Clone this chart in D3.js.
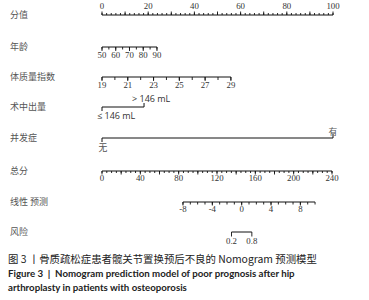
<!DOCTYPE html>
<html><head><meta charset="utf-8">
<script src="https://cdn.jsdelivr.net/npm/d3@7"></script>
<style>
html,body{margin:0;padding:0;background:#fff;}
svg{display:block;}
</style></head>
<body>
<svg id="c" width="369" height="300"></svg>
<script>
// ---- data ----
const rowLabels = ["分值","年龄","体质量指数","术中出量","并发症","总分","线性 预测","风险"];
const pointsTicks = [0,20,40,60,80,100];
const ageValues = [50,60,70,80,90];
const agePoints = [0, 23.8];            // points at age 50 and 90
const bmiValues = [19,21,23,25,27,29];
const bmiPoints = [0, 55.8];            // points at BMI 19 and 29
const bloodLevels = ["≤ 146 mL", "> 146 mL"];
const bloodPoints = [0, 18.2];
const compLevels = ["无", "有"];
const compPoints = [0, 100];
const totalTicks = [0,40,80,120,160,200,240];
const lpTicks = [-8,-4,0,4,8];
const lpRange = [-8, 10];
const lpTotal = [84.5, 207];            // total points at LP -8 and 8
const riskTicks = [0.2, 0.8];

const svg = d3.select("#c");
const black = "#111";
const X0 = 102, X1 = 333, XT1 = 332;
const xPts = d3.scaleLinear().domain([0,100]).range([X0, X1]);
const xTot = d3.scaleLinear().domain([0,240]).range([X0, XT1]);
const rowY = [15, 47, 77, 107, 138, 171, 202, 232];

// left labels
svg.selectAll("text.rl").data(rowLabels).join("text")
  .attr("class","rl").attr("x",10).attr("y",(d,i)=>rowY[i]-1)
  .attr("dominant-baseline","central")
  .attr("font-family","'Noto Sans CJK SC'").attr("font-size",9)
  .attr("fill","#555").text(d=>d);

const serif = "'Liberation Serif', serif";
function hline(g, xa, xb, y){
  g.append("line").attr("x1",xa).attr("x2",xb).attr("y1",y).attr("y2",y)
   .attr("stroke",black).attr("stroke-width",1);
}
function ticks(g, vals, xf, y, len, dir){
  g.selectAll(null).data(vals).join("line")
   .attr("x1",d=>xf(d)).attr("x2",d=>xf(d))
   .attr("y1",y).attr("y2",y+dir*len)
   .attr("stroke",black).attr("stroke-width",0.9);
}
function labels(g, vals, xf, y, fmt){
  g.selectAll(null).data(vals).join("text")
   .attr("x",d=>xf(d)).attr("y",y).attr("text-anchor","middle")
   .attr("dominant-baseline","central")
   .attr("font-family",serif).attr("font-size",8.8).attr("fill","#333")
   .text(fmt||(d=>d));
}

// Points axis
{
  const g = svg.append("g"), y = rowY[0];
  hline(g, xPts(0), xPts(100), y);
  ticks(g, d3.range(0,101,2), xPts, y, 2, -1);
  ticks(g, d3.range(0,101,10), xPts, y, 3.5, -1);
  labels(g, pointsTicks, xPts, y-9);
}
// Age
{
  const g = svg.append("g"), y = rowY[1];
  const s = d3.scaleLinear().domain([50,90]).range(agePoints);
  const xf = v=>xPts(s(v));
  hline(g, xf(50), xf(90), y);
  ticks(g, d3.range(50,91,5), xf, y, 2.5, 1);
  ticks(g, ageValues, xf, y, 4, 1);
  labels(g, ageValues, xf, y+8);
}
// BMI
{
  const g = svg.append("g"), y = rowY[2];
  const s = d3.scaleLinear().domain([19,29]).range(bmiPoints);
  const xf = v=>xPts(s(v));
  hline(g, xf(19), xf(29), y);
  ticks(g, d3.range(19,30,1), xf, y, 3, 1);
  ticks(g, bmiValues, xf, y, 4, 1);
  labels(g, bmiValues, xf, y+8);
}
// Blood loss
{
  const g = svg.append("g"), y = rowY[3];
  const xa = xPts(bloodPoints[0]), xb = xPts(bloodPoints[1]);
  hline(g, xa, xb, y);
  g.append("line").attr("x1",xa).attr("x2",xa).attr("y1",y).attr("y2",y+4).attr("stroke",black);
  g.append("line").attr("x1",xb).attr("x2",xb).attr("y1",y).attr("y2",y-4).attr("stroke",black);
  const sans = "'Open Sans', sans-serif";
  g.append("text").attr("x",xa-5).attr("y",y+8.5).attr("dominant-baseline","central")
   .attr("font-family",sans).attr("font-size",9).attr("fill","#333").text(bloodLevels[0]);
  g.append("text").attr("x",xb-12).attr("y",y-9).attr("dominant-baseline","central")
   .attr("font-family",sans).attr("font-size",9).attr("fill","#333").text(bloodLevels[1]);
}
// Complication
{
  const g = svg.append("g"), y = rowY[4];
  const xa = xPts(compPoints[0]), xb = xPts(compPoints[1]);
  hline(g, xa, xb, y);
  g.append("line").attr("x1",xa).attr("x2",xa).attr("y1",y).attr("y2",y+4).attr("stroke",black);
  g.append("line").attr("x1",xb).attr("x2",xb).attr("y1",y).attr("y2",y-4).attr("stroke",black);
  g.append("text").attr("x",xa+1).attr("y",y+9.5).attr("text-anchor","middle").attr("dominant-baseline","central")
   .attr("font-family","'Noto Sans CJK SC'").attr("font-size",8.8).attr("fill","#555").text(compLevels[0]);
  g.append("text").attr("x",xb).attr("y",y-7).attr("text-anchor","middle").attr("dominant-baseline","central")
   .attr("font-family","'Noto Sans CJK SC'").attr("font-size",8.8).attr("fill","#555").text(compLevels[1]);
}
// Total points
{
  const g = svg.append("g"), y = rowY[5];
  hline(g, xTot(0), xTot(240), y);
  ticks(g, d3.range(0,241,5), xTot, y, 2, 1);
  ticks(g, d3.range(0,241,20), xTot, y, 3.5, 1);
  labels(g, totalTicks, xTot, y+7);
}
// Linear predictor
const lpToTot = d3.scaleLinear().domain([-8,8]).range(lpTotal);
const xLp = v=>xTot(lpToTot(v));
{
  const g = svg.append("g"), y = rowY[6];
  hline(g, xLp(lpRange[0]), xLp(lpRange[1]), y);
  ticks(g, d3.range(lpRange[0], lpRange[1]+1, 1), xLp, y, 2.5, 1);
  ticks(g, lpTicks, xLp, y, 3.5, 1);
  labels(g, lpTicks, xLp, y+7);
}
// Risk
{
  const g = svg.append("g"), y = rowY[7];
  const xf = p=>xLp(Math.log(p/(1-p)));
  hline(g, xf(riskTicks[0]), xf(riskTicks[1]), y);
  ticks(g, riskTicks, xf, y, 4.5, 1);
  labels(g, riskTicks, xf, y+8.5, d=>d.toFixed(1));
}

// caption
svg.append("text").attr("x",8).attr("y",263).attr("font-family","'Noto Sans CJK SC'")
  .attr("font-size",10.4).attr("fill","#222")
  .text("图 3 丨骨质疏松症患者髋关节置换预后不良的 Nomogram 预测模型");
svg.append("text").attr("x",8).attr("y",277).attr("font-family","Lato, sans-serif")
  .attr("font-size",9.7).attr("font-weight","bold").attr("fill","#222")
  .style("white-space","pre")
  .text("Figure 3  |  Nomogram prediction model of poor prognosis after hip");
svg.append("text").attr("x",8).attr("y",291).attr("font-family","Lato, sans-serif")
  .attr("font-size",9.7).attr("font-weight","bold").attr("fill","#222")
  .text("arthroplasty in patients with osteoporosis");
</script>
</body></html>
